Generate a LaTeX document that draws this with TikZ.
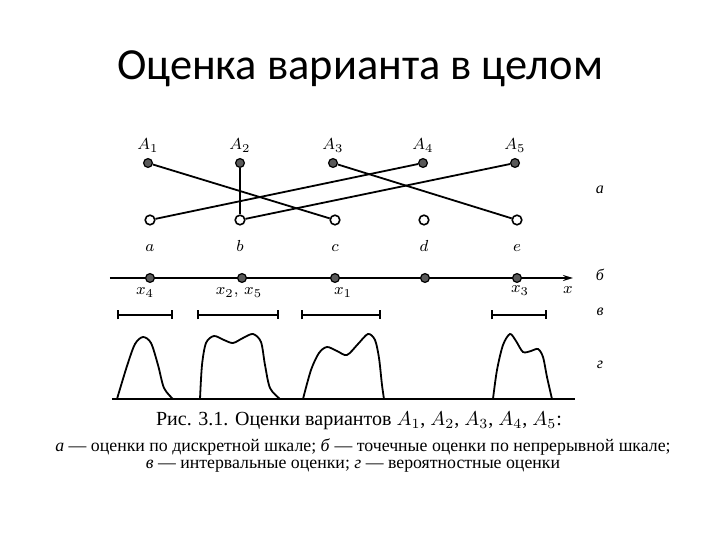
\documentclass[tikz,border=0pt]{standalone}
\usepackage[no-math]{fontspec}
\setmainfont{Liberation Serif}
\newfontfamily\titlefont{Carlito}
\usetikzlibrary{arrows.meta}

\begin{document}
\begin{tikzpicture}
	[x=0.5pt, y=-0.5pt,%
	alt/.style  ={circle,	draw=black,	fill=black!65,	line width=0.6pt,	inner sep=0pt,	minimum size=4.4pt},%
	grade/.style={circle,	draw=black,	fill=white,		line width=0.8pt,	inner sep=0pt,	minimum size=4.8pt},%
	lbl/.style  ={inner sep=0pt,	anchor=base,	font=\fontsize{8}{9}\selectfont},%
	row/.style  ={inner sep=0pt,	font=\fontsize{8}{9}\selectfont\itshape},%
	edge/.style ={line width=0.9pt},%
	]

	\newcommand{\ytop}{163}
	\newcommand{\ybot}{220}
	\newcommand{\yax}{278}
	\newcommand{\yint}{315}
	\newcommand{\ybase}{399}

	\useasboundingbox (0,0) rectangle (720,540);

	% title
	\node (title) at (360,80) [anchor=base, inner sep=0pt] {\titlefont\fontsize{22.2}{26}\selectfont Оценка варианта в целом};

	% nodes
	\foreach \i/\x in {1/148,2/240,3/333,4/423,5/515} {
		\node (alt\i) at (\x,\ytop) [alt] {};
		\node (lblA\i) at (\x,150) [lbl] {$A_{\i}$};
	}
	\foreach \n/\x in {a/150,b/240,c/335,d/424,e/517} {
		\node (grade\n) at (\x,\ybot) [grade] {};
		\node (lbl\n) at (\x,252) [lbl] {$\n$};
	}

	% interconnections
	\foreach \i/\n in {1/c,2/b,3/e,4/a,5/b}
		\draw [edge] (alt\i) -- (grade\n);

	% point scale
	\coordinate (axstart) at (110,\yax);
	\coordinate (axend)   at (573,\yax);
	\draw [edge, -{Stealth[length=5pt, width=3pt]}] (axstart) -- (axend);
	\foreach \i/\x in {1/150,2/242,3/335,4/425,5/517}
		\node (pt\i) at (\x,\yax) [alt] {};
	\node (lblx4)  at (145,295) [lbl] {$x_4$};
	\node (lblx25) at (239,295) [lbl] {$x_2,\,x_5$};
	\node (lblx1)  at (343,295) [lbl] {$x_1$};
	\node (lblx3)  at (520,293) [lbl] {$x_3$};
	\node (lblx)   at (568,294) [lbl] {$x$};

	% intervals
	\foreach \l/\r in {117/173,197/279,301/381,491/547}
		\draw [edge, {Bar[width=4.5pt]}-{Bar[width=4.5pt]}] (\l,\yint) -- (\r,\yint);

	% densities
	\draw [edge] (112,\ybase) -- (575,\ybase);
	\draw [edge] plot [smooth] coordinates {(117,399) (127,366) (135,344) (143,337) (151,343) (158,365) (164,388) (173,399)};
	\draw [edge] plot [smooth] coordinates {(200,399) (202,365) (206,343) (214,336) (224,340) (233,343) (243,338) (253,334) (261,342) (265,365) (270,388) (280,399)};
	\draw [edge] plot [smooth] coordinates {(303,399) (311,370) (319,353) (327,347) (337,351) (347,355) (358,344) (368,334) (375,340) (379,358) (382,385) (384,399)};
	\draw [edge] plot [smooth] coordinates {(493,399) (497,370) (503,345) (510,334) (516,341) (523,352) (531,351) (538,349) (543,357) (547,377) (552,399)};

	% row marks
	\node (rowa) at (600,190) [row] {а};
	\node (rowb) at (600,275) [row] {б};
	\node (rowc) at (600,312) [row] {в};
	\node (rowd) at (600,365) [row] {г};

	% caption
	\node (cap1) at (359,421) [font=\fontsize{10}{12}\selectfont] {Рис. 3.1. Оценки вариантов $A_1$, $A_2$, $A_3$, $A_4$, $A_5$:};
	\node (cap2) at (363,447) [font=\fontsize{8.9}{11}\selectfont] {\textit{а} — оценки по дискретной шкале; \textit{б} — точечные оценки по непрерывной шкале;};
	\node (cap3) at (353,466) [font=\fontsize{8.9}{11}\selectfont] {\textit{в} — интервальные оценки; \textit{г} — вероятностные оценки};

\end{tikzpicture}
\end{document}
